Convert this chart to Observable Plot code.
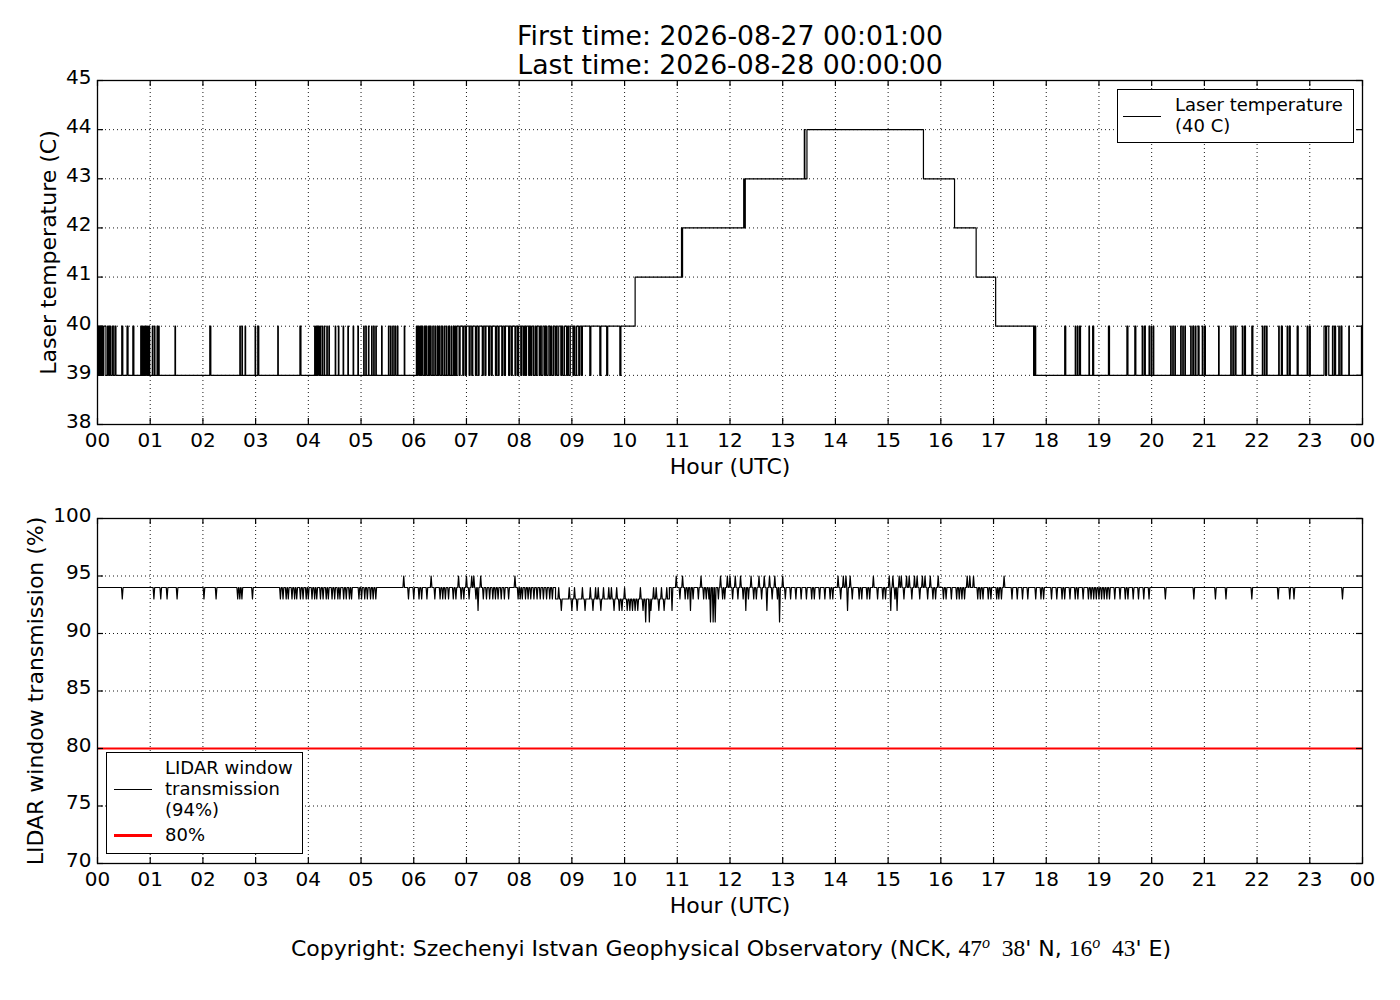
<!DOCTYPE html>
<html><head><meta charset="utf-8">
<script src="https://cdn.jsdelivr.net/npm/d3@7"></script>
<script src="https://cdn.jsdelivr.net/npm/@observablehq/plot@0.6"></script>
<style>
body{margin:0;background:#fff;font-family:"DejaVu Sans",sans-serif;color:#000;}
#page{position:relative;width:1400px;height:1000px;overflow:hidden;}
.title{position:absolute;left:230px;width:1000px;top:21px;text-align:center;font-size:26.7px;line-height:29px;z-index:5;}
.panel{position:absolute;left:0;}
.legend{position:absolute;background:#fff;border:1.3px solid #000;box-sizing:border-box;font-size:18px;line-height:20.5px;z-index:4;}
.legend .txt{position:absolute;}
.legend .sw{position:absolute;height:0;border-top:1.3px solid #000;}
.caption{position:absolute;left:230px;width:1002px;top:935px;text-align:center;font-size:22px;}
.m{font-family:"Liberation Serif","DejaVu Serif",serif;font-size:23.5px;}
.m sup{font-size:16px;font-style:italic;vertical-align:8px;line-height:0;}
</style>
</head><body>
<div id="page">
  <div class="title">First time: 2026-08-27 00:01:00<br>Last time: 2026-08-28 00:00:00</div>
  <div class="panel" id="top" style="top:70px"></div>
  <div class="panel" id="bottom" style="top:500px"></div>
  <div class="legend" style="left:1117px;top:89px;width:237px;height:54px;">
    <div class="sw" style="left:5px;top:26px;width:38px;"></div>
    <div class="txt" style="left:57px;top:5px;">Laser temperature<br>(40 C)</div>
  </div>
  <div class="legend" style="left:106px;top:752px;width:197px;height:102px;">
    <div class="sw" style="left:7px;top:36px;width:38px;"></div>
    <div class="txt" style="left:58px;top:4px;line-height:21px;">LIDAR window<br>transmission<br>(94%)</div>
    <div class="sw" style="left:7px;top:81px;width:38px;border-top:3px solid #ff0000;"></div>
    <div class="txt" style="left:58px;top:72px;">80%</div>
  </div>
  <div class="caption">Copyright: Szechenyi Istvan Geophysical Observatory (NCK, <span class="m">47<sup>o</sup>&nbsp; 38</span>' N, <span class="m">16<sup>o</sup>&nbsp; 43</span>' E)</div>
</div>
<script>
// ---------- tick values ----------
const hourTicks = [0,1,2,3,4,5,6,7,8,9,10,11,12,13,14,15,16,17,18,19,20,21,22,23,24];
const tempTicks = [38,39,40,41,42,43,44,45];
const transTicks = [70,75,80,85,90,95,100];
const thresholdValue = [80];

// ---------- laser temperature (hours UTC, deg C) ----------
// intervals where the temperature reads 40 over a 39 baseline (morning)
const tempMorningPulses = [
  [0.00,0.02],[0.04,0.06],[0.08,0.10],[0.12,0.16],[0.19,0.21],[0.23,0.25],[0.28,0.30],[0.33,0.35],
  [0.46,0.48],[0.56,0.58],[0.67,0.69],
  [0.82,0.83],[0.85,0.86],[0.88,0.89],[0.91,0.93],[0.95,0.96],[0.98,0.99],
  [1.04,1.05],[1.08,1.09],[1.13,1.14],[1.16,1.17],[1.47,1.48],[2.13,2.15],
  [2.70,2.71],[2.74,2.75],[2.80,2.81],[2.99,3.00],[3.04,3.06],[3.42,3.43],[3.84,3.86],
  [4.12,4.13],[4.15,4.16],[4.18,4.20],[4.22,4.23],[4.26,4.27],[4.30,4.31],[4.35,4.36],[4.39,4.40],
  [4.51,4.52],[4.57,4.58],[4.66,4.67],[4.75,4.76],[4.85,4.86],[4.94,4.95],[5.05,5.06],[5.09,5.10],
  [5.14,5.15],[5.20,5.21],[5.24,5.25],[5.28,5.29],[5.39,5.40],
  [5.52,5.53],[5.56,5.57],[5.60,5.61],[5.64,5.66],[5.69,5.70],[5.82,5.83],
  [6.05,6.06],[6.08,6.10],[6.12,6.13],[6.15,6.17],[6.20,6.21],[6.23,6.25],[6.28,6.29],[6.31,6.33],
  [6.36,6.37],[6.40,6.42],[6.45,6.46],[6.48,6.50],[6.53,6.55],[6.58,6.59],[6.62,6.63],[6.66,6.68],
  [6.71,6.72],[6.75,6.77],[6.79,6.80],
  [6.82,6.86],[6.88,6.93],[6.95,6.98],[7.00,7.05],[7.07,7.10],[7.12,7.17],[7.19,7.22],[7.24,7.30],
  [7.32,7.35],[7.37,7.42],[7.44,7.47],[7.49,7.55],[7.57,7.60],[7.62,7.67],[7.69,7.72],[7.74,7.80],
  [7.82,7.85],[7.87,7.92],[7.94,7.97],[7.99,8.03],[8.05,8.08],[8.10,8.12],[8.14,8.18],[8.20,8.22],
  [8.24,8.27],[8.30,8.32],[8.34,8.38],[8.40,8.42],[8.45,8.48],[8.50,8.52],[8.55,8.58],[8.60,8.62],
  [8.65,8.68],[8.70,8.72],[8.75,8.79],[8.81,8.83],[8.86,8.90],[8.92,8.94],[8.97,9.02],[9.04,9.06],
  [9.09,9.13],[9.15,9.18],[9.20,9.34],[9.36,9.53],[9.55,9.66],[9.68,9.91]
];
// stepped levels in the middle of the day
const tempLevels = [
  [9.93,40],[10.20,41],[11.08,42],[11.09,41],[11.10,42],[12.26,43],[12.27,42],[12.29,43],
  [13.41,44],[13.42,43],[13.46,44],[15.67,43],[16.26,42],[16.67,41],[17.04,40],
  [17.76,39],[17.77,40],[17.78,39],[17.79,40],[17.80,39]
];
// intervals where the temperature reads 40 over a 39 baseline (evening)
const tempEveningPulses = [
  [18.35,18.37],[18.55,18.56],[18.59,18.60],[18.63,18.65],[18.81,18.82],[18.88,18.90],[19.18,19.20],
  [19.53,19.55],[19.68,19.70],[19.82,19.83],[19.86,19.88],[19.95,19.96],[19.99,20.00],[20.03,20.04],
  [20.36,20.37],[20.40,20.41],[20.44,20.45],[20.55,20.56],[20.59,20.60],[20.63,20.64],[20.74,20.75],
  [20.78,20.80],[20.83,20.84],[20.88,20.90],[20.96,20.97],[21.00,21.02],[21.27,21.28],[21.50,21.51],
  [21.54,21.55],[21.58,21.60],[21.72,21.73],[21.76,21.78],[21.90,21.92],[22.10,22.11],[22.14,22.15],
  [22.18,22.19],[22.41,22.42],[22.46,22.48],[22.57,22.58],[22.61,22.63],[22.76,22.78],[22.95,22.96],
  [22.99,23.01],[23.27,23.30],[23.32,23.36],[23.43,23.44],[23.47,23.49],[23.55,23.56],[23.59,23.61],
  [23.74,23.75],[23.98,24.00]
];
const tempBase = 39, tempHigh = 40;

// ---------- LIDAR window transmission (hours UTC, %) ----------
const transSegments = [[0,8.69,94],[8.69,10.85,93],[10.85,24,94]];
const transSpikes = [
  [0.47,93],[1.07,93],[1.20,93],[1.32,93],[1.51,93],[2.02,93],[2.25,93],[2.66,93],[2.70,93],[2.74,93],[2.94,93],
  [3.47,93],[3.52,93],[3.58,93],[3.62,93],[3.69,93],[3.74,93],[3.78,93],[3.85,93],[3.90,93],[3.96,93],
  [4.00,93],[4.07,93],[4.12,93],[4.16,93],[4.23,93],[4.28,93],[4.34,93],[4.38,93],[4.45,93],[4.50,93],
  [4.56,93],[4.60,93],[4.67,93],[4.72,93],[4.78,93],[4.82,93],
  [4.96,93],[5.01,93],[5.07,93],[5.12,93],[5.18,93],[5.23,93],[5.28,93],
  [5.81,95],[5.90,93],[6.00,93],[6.10,93],[6.15,93],[6.25,93],[6.33,95],[6.40,93],[6.50,93],[6.55,93],
  [6.60,93],[6.66,93],[6.75,93],[6.80,93],[6.85,95],[6.90,93],[6.95,93],[7.00,95],[7.05,93],[7.10,95],
  [7.14,95],[7.18,93],[7.22,92],[7.27,95],[7.32,93],[7.38,93],[7.44,93],[7.50,93],[7.55,93],[7.60,93],
  [7.66,93],[7.72,93],[7.80,93],[7.92,95],[7.98,93],[8.02,93],[8.06,93],[8.12,93],[8.17,93],[8.22,93],
  [8.28,93],[8.34,93],[8.40,93],[8.46,93],[8.52,93],[8.58,93],[8.63,93],
  [8.75,94],[8.80,92],[8.95,94],[9.00,92],[9.05,94],[9.10,92],[9.20,94],[9.25,92],[9.35,94],[9.40,92],
  [9.45,94],[9.50,94],[9.55,92],[9.60,94],[9.70,94],[9.75,94],[9.80,92],[9.85,94],[9.90,92],[9.95,92],
  [10.00,94],[10.05,92],[10.10,92],[10.15,92],[10.20,92],[10.25,92],[10.30,94],[10.35,92],[10.40,91],
  [10.47,91],[10.50,92],[10.55,94],[10.60,94],[10.65,92],[10.70,94],[10.75,92],[10.80,94],
  [10.90,92],[10.98,95],[11.05,93],[11.10,95],[11.15,93],[11.20,93],[11.25,92],[11.30,93],[11.40,93],
  [11.45,95],[11.50,93],[11.55,93],[11.60,93],[11.63,91],[11.68,91],[11.72,91],[11.78,93],[11.82,95],
  [11.86,93],[11.90,93],[11.95,95],[12.00,95],[12.05,93],[12.10,95],[12.15,93],[12.20,95],[12.25,93],
  [12.30,92],[12.35,93],[12.40,95],[12.45,93],[12.50,93],[12.55,95],[12.60,93],[12.65,95],[12.70,92],
  [12.75,95],[12.80,93],[12.85,95],[12.90,93],[12.94,91],[13.00,95],[13.05,93],
  [13.15,93],[13.25,93],[13.35,93],[13.45,93],[13.55,93],[13.60,93],[13.70,93],[13.80,93],[13.90,93],[13.95,93],
  [14.05,95],[14.10,93],[14.15,95],[14.20,95],[14.23,92],[14.28,95],[14.32,93],
  [14.45,93],[14.50,93],[14.60,93],[14.65,93],[14.72,95],[14.80,93],[14.90,93],[14.95,93],
  [15.02,95],[15.05,92],[15.09,95],[15.13,93],[15.17,92],[15.21,95],[15.25,95],[15.30,93],[15.35,95],
  [15.40,95],[15.45,93],[15.50,95],[15.55,95],[15.60,93],[15.65,95],[15.70,95],[15.75,93],[15.80,95],
  [15.85,93],[15.90,93],[15.95,95],
  [16.05,93],[16.10,93],[16.20,93],[16.30,93],[16.35,93],[16.40,93],[16.45,93],[16.50,95],[16.55,95],
  [16.62,95],[16.70,93],[16.75,93],[16.80,93],[16.90,93],[16.95,93],[17.06,93],[17.10,93],[17.15,93],[17.20,95],
  [17.35,93],[17.45,93],[17.55,93],[17.65,93],[17.80,93],[17.90,93],[17.95,93],[18.10,93],[18.20,93],
  [18.30,93],[18.35,93],[18.45,93],[18.55,93],[18.60,93],[18.70,93],[18.80,93],[18.85,93],[18.90,93],
  [18.95,93],[19.00,93],[19.05,93],[19.10,93],[19.15,93],[19.20,93],[19.30,93],[19.40,93],[19.50,93],
  [19.55,93],[19.65,93],[19.75,93],[19.85,93],[19.95,93],
  [20.26,93],[20.80,93],[21.21,93],[21.41,93],[21.90,93],[22.40,93],[22.62,93],[22.70,93],[23.62,93]
];

// ---------- build line tables from the values above ----------
const tempSeries = [];
if (tempMorningPulses[0][0] > 0) tempSeries.push({t:0, v:tempBase});
for (const [a,b] of tempMorningPulses) { tempSeries.push({t:a, v:tempHigh}, {t:b, v:tempBase}); }
for (const [t,v] of tempLevels) tempSeries.push({t, v});
for (const [a,b] of tempEveningPulses) {
  tempSeries.push({t:a, v:tempHigh});
  tempSeries.push({t:b, v: b >= 24 ? tempHigh : tempBase});
}

const spikeHalf = 0.015;
const transSeries = [];
for (const [t0,t1,base] of transSegments) {
  transSeries.push({t:t0, v:base});
  for (const [t,v] of transSpikes.filter(s => s[0] >= t0 && s[0] < t1)) {
    transSeries.push({t:t-spikeHalf, v:base}, {t, v}, {t:t+spikeHalf, v:base});
  }
  transSeries.push({t:t1, v:base});
}

const hourFmt = d => String(d % 24).padStart(2, "0");
const W = 1400, ML = 97, MR = 38;
const FW = W - ML - MR;
const TICK = 6;

function panel({yDomain, yTicks, height, mt, mb, ylabel, ylabelOffset, marks}) {
  const FH = height - mt - mb;
  return Plot.plot({
    width: W, height, marginLeft: ML, marginRight: MR, marginTop: mt, marginBottom: mb,
    style: {fontFamily: "DejaVu Sans, sans-serif", fontSize: "20px", color: "#000", background: "transparent", overflow: "visible"},
    x: {domain: [0, 24]},
    y: {domain: yDomain},
    marks: [
      Plot.gridX(hourTicks, {stroke: "#000", strokeOpacity: 0.9, strokeWidth: 1, strokeDasharray: "1,3"}),
      Plot.gridY(yTicks, {stroke: "#000", strokeOpacity: 0.9, strokeWidth: 1, strokeDasharray: "1,3"}),
      ...marks,
      Plot.frame({stroke: "#000", strokeWidth: 1.3}),
      Plot.tickY(yTicks, {y: d => d, insetRight: FW - TICK, stroke: "#000", strokeWidth: 1.2}),
      Plot.tickY(yTicks, {y: d => d, insetLeft: FW - TICK, stroke: "#000", strokeWidth: 1.2}),
      Plot.tickX(hourTicks, {x: d => d, insetBottom: FH - TICK, stroke: "#000", strokeWidth: 1.2}),
      Plot.tickX(hourTicks, {x: d => d, insetTop: FH - TICK, stroke: "#000", strokeWidth: 1.2}),
      Plot.axisX(hourTicks, {tickSize: 0, tickPadding: 8, tickFormat: hourFmt, label: null, fontSize: 20}),
      Plot.axisY(yTicks, {tickSize: 0, tickPadding: 6, dy: -3, label: null, fontSize: 20}),
      Plot.text(["Hour (UTC)"], {frameAnchor: "bottom", lineAnchor: "middle", textAnchor: "middle", dy: 42, fontSize: 22, text: d => d}),
      Plot.text([ylabel], {frameAnchor: "left", textAnchor: "middle", lineAnchor: "middle", rotate: -90, dx: -ylabelOffset, fontSize: 22, text: d => d})
    ]
  });
}

const topChart = panel({
  yDomain: [38, 45], yTicks: tempTicks, height: 414, mt: 10, mb: 60,
  ylabel: "Laser temperature (C)", ylabelOffset: 49,
  marks: [Plot.line(tempSeries, {x: "t", y: "v", curve: "step-after", stroke: "#000", strokeWidth: 1.2})]
});
document.getElementById("top").appendChild(topChart);

const bottomChart = panel({
  yDomain: [70, 100], yTicks: transTicks, height: 423, mt: 18, mb: 60,
  ylabel: "LIDAR window transmission (%)", ylabelOffset: 62,
  marks: [
    Plot.line(transSeries, {x: "t", y: "v", stroke: "#000", strokeWidth: 1.2}),
    Plot.ruleY(thresholdValue, {stroke: "#ff0000", strokeWidth: 2.2})
  ]
});
document.getElementById("bottom").appendChild(bottomChart);
</script>
</body></html>
